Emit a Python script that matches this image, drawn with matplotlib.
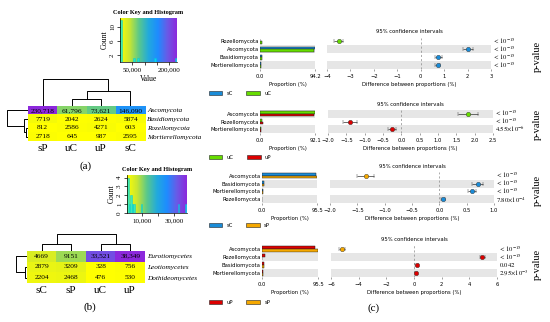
import numpy as np
import matplotlib
matplotlib.use('Agg')
import matplotlib.pyplot as plt
from matplotlib.colors import LinearSegmentedColormap, Normalize
from matplotlib.patches import Patch

plt.rcParams['mathtext.fontset'] = 'stix'
SERIF = 'Liberation Serif'
SANS = 'DejaVu Sans'

# ---------------- data ----------------
a_rows = ['Ascomycota', 'Basidiomycota', 'Rozellomycota', 'Mortierellomycota']
a_cols = ['sP', 'uC', 'uP', 'sC']
a_vals = np.array([[230718, 61796, 73621, 146090],
                   [7719, 2042, 2624, 5874],
                   [812, 2586, 4271, 603],
                   [2718, 645, 987, 2595]])
# dendrogram merges: (node_i, node_j, relative height)
a_top_merges = [(1, 2, 0.26), (4, 3, 0.56), (0, 5, 1.0)]
a_left_merges = [(2, 3, 0.10), (1, 4, 0.18), (0, 5, 1.0)]

b_rows = ['Eurotiomycetes', 'Leotiomycetes', 'Dothideomycetes']
b_cols = ['sC', 'sP', 'uC', 'uP']
b_vals = np.array([[4669, 9151, 33521, 38349],
                   [2879, 3209, 328, 756],
                   [2204, 2468, 476, 530]])
b_top_merges = [(0, 1, 0.44), (2, 3, 0.44), (4, 5, 1.0)]
b_left_merges = [(1, 2, 0.2), (0, 3, 1.0)]

a_key_ticks = [50000, 100000, 150000, 200000]
a_key_labels = ['50,000', '', '', '200,000']
b_key_ticks = [10000, 20000, 30000]
b_key_labels = ['10,000', '', '30,000']

group_colors = {'sC': '#1a8cd8', 'uC': '#66dd00', 'uP': '#dd0000', 'sP': '#f5a800'}

c_taxa = [['Rozellomycota', 'Ascomycota', 'Basidiomycota', 'Mortierellomycota'],
          ['Ascomycota', 'Rozellomycota', 'Mortierellomycota'],
          ['Ascomycota', 'Basidiomycota', 'Mortierellomycota', 'Rozellomycota'],
          ['Ascomycota', 'Rozellomycota', 'Basidiomycota', 'Mortierellomycota']]
c_groups = [('sC', 'uC'), ('uC', 'uP'), ('sC', 'sP'), ('uP', 'sP')]
c_prop1 = [[0.39, 94.15, 3.79, 1.67],
           [92.14, 3.86, 0.96],
           [94.15, 3.79, 1.67, 0.39],
           [90.33, 5.24, 3.22, 1.21]]
c_prop2 = [[3.86, 92.14, 3.04, 0.96],
           [90.33, 5.24, 1.21],
           [95.35, 3.19, 1.12, 0.34],
           [95.35, 0.34, 3.19, 1.12]]
c_diff = [[-3.50, 2.02, 0.75, 0.72],
          [1.82, -1.40, -0.25],
          [-1.35, 0.70, 0.60, 0.07],
          [-5.20, 4.95, 0.20, 0.15]]
c_lo = [[-3.68, 1.80, 0.60, 0.62],
        [1.55, -1.60, -0.36],
        [-1.50, 0.60, 0.53, 0.03],
        [-5.40, 4.80, 0.10, 0.07]]
c_hi = [[-3.32, 2.25, 0.90, 0.82],
        [2.10, -1.20, -0.14],
        [-1.20, 0.80, 0.67, 0.11],
        [-5.00, 5.10, 0.30, 0.23]]
c_pvals = [[r'$<10^{-15}$'] * 4,
           [r'$<10^{-15}$', r'$<10^{-15}$', r'$4.55{\times}10^{-6}$'],
           [r'$<10^{-15}$'] * 3 + [r'$7.80{\times}10^{-4}$'],
           [r'$<10^{-15}$', r'$<10^{-15}$', r'$0.042$', r'$2.95{\times}10^{-3}$']]
c_xmax = [94.2, 92.1, 95.5, 95.5]
c_dlim = [(-4, 3), (-2.0, 2.5), (-2.0, 1.0), (-6, 6)]
c_dticks = [[-4, -3, -2, -1, 0, 1, 2, 3],
            [-2.0, -1.5, -1.0, -0.5, 0.0, 0.5, 1.0, 1.5, 2.0, 2.5],
            [-2.0, -1.5, -1.0, -0.5, 0.0, 0.5, 1.0],
            [-6, -4, -2, 0, 2, 4, 6]]

# ---------------- figure ----------------
W, H = 550, 322
fig = plt.figure(figsize=(5.5, 3.22), dpi=100)


def axbox(x0, y0, x1, y1):
    return fig.add_axes([x0 / W, 1 - y1 / H, (x1 - x0) / W, (y1 - y0) / H])


def ftext(x, y, s, **kw):
    return fig.text(x / W, 1 - y / H, s, **kw)


cmap = LinearSegmentedColormap.from_list(
    'key', ['#ffff00', '#c8e632', '#5ac88c', '#22aadd', '#1e8cff', '#6a5ae6', '#8c28dc'])


def draw_dendro(ax, merges, n, orient):
    pos = {i: i + 0.5 for i in range(n)}
    hgt = {i: 0.0 for i in range(n)}
    for k, (i, j, h) in enumerate(merges):
        xs = [pos[i], pos[i], pos[j], pos[j]]
        ys = [hgt[i], h, h, hgt[j]]
        if orient == 'top':
            ax.plot(xs, ys, color='black', lw=0.7, solid_capstyle='butt')
        else:
            ax.plot(ys, xs, color='black', lw=0.7, solid_capstyle='butt')
        pos[n + k] = (pos[i] + pos[j]) / 2
        hgt[n + k] = h
    if orient == 'top':
        ax.set_xlim(0, n)
        ax.set_ylim(0, 1.02)
    else:
        ax.set_ylim(n, 0)
        ax.set_xlim(1.02, 0)
    ax.axis('off')


def draw_heat(ax, vals, rows, cols):
    norm = Normalize(vals.min(), vals.max())
    nr, nc = vals.shape
    ax.imshow(vals, cmap=cmap, norm=norm, aspect='auto', extent=(0, nc, nr, 0))
    for i in range(nr):
        for j in range(nc):
            v = vals[i, j]
            s = f'{v:,}' if v >= 10000 else str(v)
            ax.text(j + 0.5, i + 0.5, s, ha='center', va='center', fontsize=5.3,
                    family=SERIF, color='black')
    ax.set_xticks(np.arange(nc) + 0.5)
    ax.set_xticklabels(cols, fontsize=8, family=SERIF)
    ax.yaxis.tick_right()
    ax.set_yticks(np.arange(nr) + 0.5)
    ax.set_yticklabels(rows, fontsize=5.2, family=SERIF, style='italic')
    ax.tick_params(length=0, pad=1.5)
    ax.tick_params(axis='x', pad=2)
    for s in ax.spines.values():
        s.set_visible(False)
    return norm


def draw_key(ax, vals, norm, ticks, labels, ymax, yticks, bins, xlabel=None):
    v = vals.ravel()
    ax.imshow(np.linspace(0, 1, 256)[None, :], cmap=cmap, aspect='auto',
              extent=(norm.vmin, norm.vmax, 0, ymax), origin='lower')
    counts, edges = np.histogram(v, bins=bins, range=(norm.vmin, norm.vmax))
    ax.bar(edges[:-1], counts, width=np.diff(edges), align='edge',
           color='#00e8f0', alpha=0.75, edgecolor='#00c8d8', lw=0.4)
    ax.set_xlim(norm.vmin, norm.vmax)
    ax.set_ylim(0, ymax)
    ax.set_xticks(ticks)
    ax.set_xticklabels(labels, fontsize=5, family=SERIF)
    ax.set_yticks(yticks)
    ax.set_yticklabels([str(t) for t in yticks], fontsize=5, family=SERIF,
                       rotation=90, va='center')
    ax.set_ylabel('Count', fontsize=5.5, family=SERIF, labelpad=1)
    if xlabel:
        ax.set_xlabel(xlabel, fontsize=5.5, family=SERIF, labelpad=2)
    ax.tick_params(length=2, width=0.5, pad=1.5)
    for s in ['top', 'right']:
        ax.spines[s].set_visible(False)
    for s in ['left', 'bottom']:
        ax.spines[s].set_linewidth(0.5)
    ax.set_title('Color Key and Histogram', fontsize=4.6, family=SERIF,
                 fontweight='bold', pad=3)


# ---- panel (a)
ax_ha = axbox(28, 106, 145, 141)
norm_a = draw_heat(ax_ha, a_vals, a_rows, a_cols)
draw_dendro(axbox(28, 78, 145, 106), a_top_merges, 4, 'top')
draw_dendro(axbox(7, 106, 28, 141), a_left_merges, 4, 'left')
draw_key(axbox(120, 18, 177, 62), a_vals, norm_a, a_key_ticks, a_key_labels,
         12.5, [2, 6, 10], 30, xlabel='Value')
ftext(86, 166, '(a)', fontsize=8, family=SERIF, ha='center', va='center')

# ---- panel (b)
ax_hb = axbox(27, 251, 145, 283)
norm_b = draw_heat(ax_hb, b_vals, b_rows, b_cols)
draw_dendro(axbox(27, 234, 145, 251), b_top_merges, 4, 'top')
draw_dendro(axbox(16, 251, 27, 283), b_left_merges, 3, 'left')
draw_key(axbox(127, 175, 187, 213), b_vals, norm_b, b_key_ticks, b_key_labels,
         4.3, [0, 1, 2, 3, 4], 40)
ftext(90, 307, '(b)', fontsize=8, family=SERIF, ha='center', va='center')

# ---- panel (c)
c_bar_x = [(260, 315), (260, 315), (262, 317), (262, 318)]
c_diff_x = [(327, 491), (328, 493), (330, 494), (331, 497)]
c_y = [(37.5, 69), (110, 133), (172, 203), (245, 277)]
c_leg_y = [87, 151, 219, 296]
FS = 3.8

for k in range(4):
    taxa = c_taxa[k]
    n = len(taxa)
    g1, g2 = c_groups[k]
    y0, y1 = c_y[k]
    axb = axbox(c_bar_x[k][0], y0, c_bar_x[k][1], y1)
    axd = axbox(c_diff_x[k][0], y0, c_diff_x[k][1], y1)
    ypos = np.arange(n)
    for ax in (axb, axd):
        for i in range(n):
            if (n - 1 - i) % 2 == 0:
                ax.axhspan(i - 0.5, i + 0.5, color='#e6e6e6', zorder=0, lw=0)
        ax.set_ylim(n - 0.5, -0.5)
        for s in ax.spines.values():
            s.set_visible(False)
        ax.tick_params(axis='x', labelsize=FS, length=1.2, width=0.4, pad=2.5,
                       color='#555555')
    bh = 0.33
    axb.barh(ypos - bh / 2, c_prop1[k], height=bh, color=group_colors[g1],
             edgecolor='#222222', lw=0.35, zorder=2)
    axb.barh(ypos + bh / 2, c_prop2[k], height=bh, color=group_colors[g2],
             edgecolor='#222222', lw=0.35, zorder=2)
    axb.set_xlim(0, c_xmax[k])
    axb.set_xticks([0, c_xmax[k]])
    axb.set_xticklabels(['0.0', f'{c_xmax[k]}'])
    axb.set_yticks(ypos)
    axb.set_yticklabels(taxa, fontsize=FS, family=SANS)
    axb.tick_params(axis='y', length=0, pad=1)
    axb.set_xlabel('Proportion (%)', fontsize=FS, family=SANS, labelpad=2)

    d = np.array(c_diff[k])
    lo = np.array(c_lo[k])
    hi = np.array(c_hi[k])
    axd.axvline(0, ls=(0, (3, 3)), color='#888888', lw=0.5, zorder=1)
    for i in range(n):
        col = group_colors[g1] if d[i] > 0 else group_colors[g2]
        axd.errorbar(d[i], ypos[i], xerr=[[d[i] - lo[i]], [hi[i] - d[i]]], fmt='o',
                     color=col, ecolor='#333333', elinewidth=0.5, capsize=1.2,
                     capthick=0.5, markersize=3.2, mec='#333333', mew=0.3, zorder=3)
    axd.set_xlim(*c_dlim[k])
    axd.set_xticks(c_dticks[k])
    if isinstance(c_dticks[k][0], float):
        axd.set_xticklabels([f'{t:.1f}'.replace('-', '\u2212') for t in c_dticks[k]])
    else:
        axd.set_xticklabels([str(t).replace('-', '\u2212') for t in c_dticks[k]])
    axd.set_yticks([])
    axd.set_xlabel('Difference between proportions (%)', fontsize=FS, family=SANS,
                   labelpad=2)
    axd.set_title('95% confidence intervals', fontsize=FS, family=SANS, pad=3)
    for i in range(n):
        axd.text(1.01, ypos[i], c_pvals[k][i], transform=axd.get_yaxis_transform(),
                 fontsize=4.8, va='center', ha='left')
    ftext(537, (y0 + y1) / 2 + 3, 'p-value', rotation=90, fontsize=7.5, family=SERIF,
          ha='center', va='center')
    fig.legend(handles=[Patch(facecolor=group_colors[g1], edgecolor='#222222', lw=0.4),
                        Patch(facecolor=group_colors[g2], edgecolor='#222222', lw=0.4)],
               labels=[g1, g2], loc='upper left',
               bbox_to_anchor=(205 / W, 1 - c_leg_y[k] / H), ncol=2, frameon=False,
               fontsize=FS, handlelength=2.6, handleheight=0.9, columnspacing=2.5,
               handletextpad=0.8, borderpad=0.2)

ftext(374, 308, '(c)', fontsize=8, family=SERIF, ha='center', va='center')

fig.savefig('out.png', dpi=100)
